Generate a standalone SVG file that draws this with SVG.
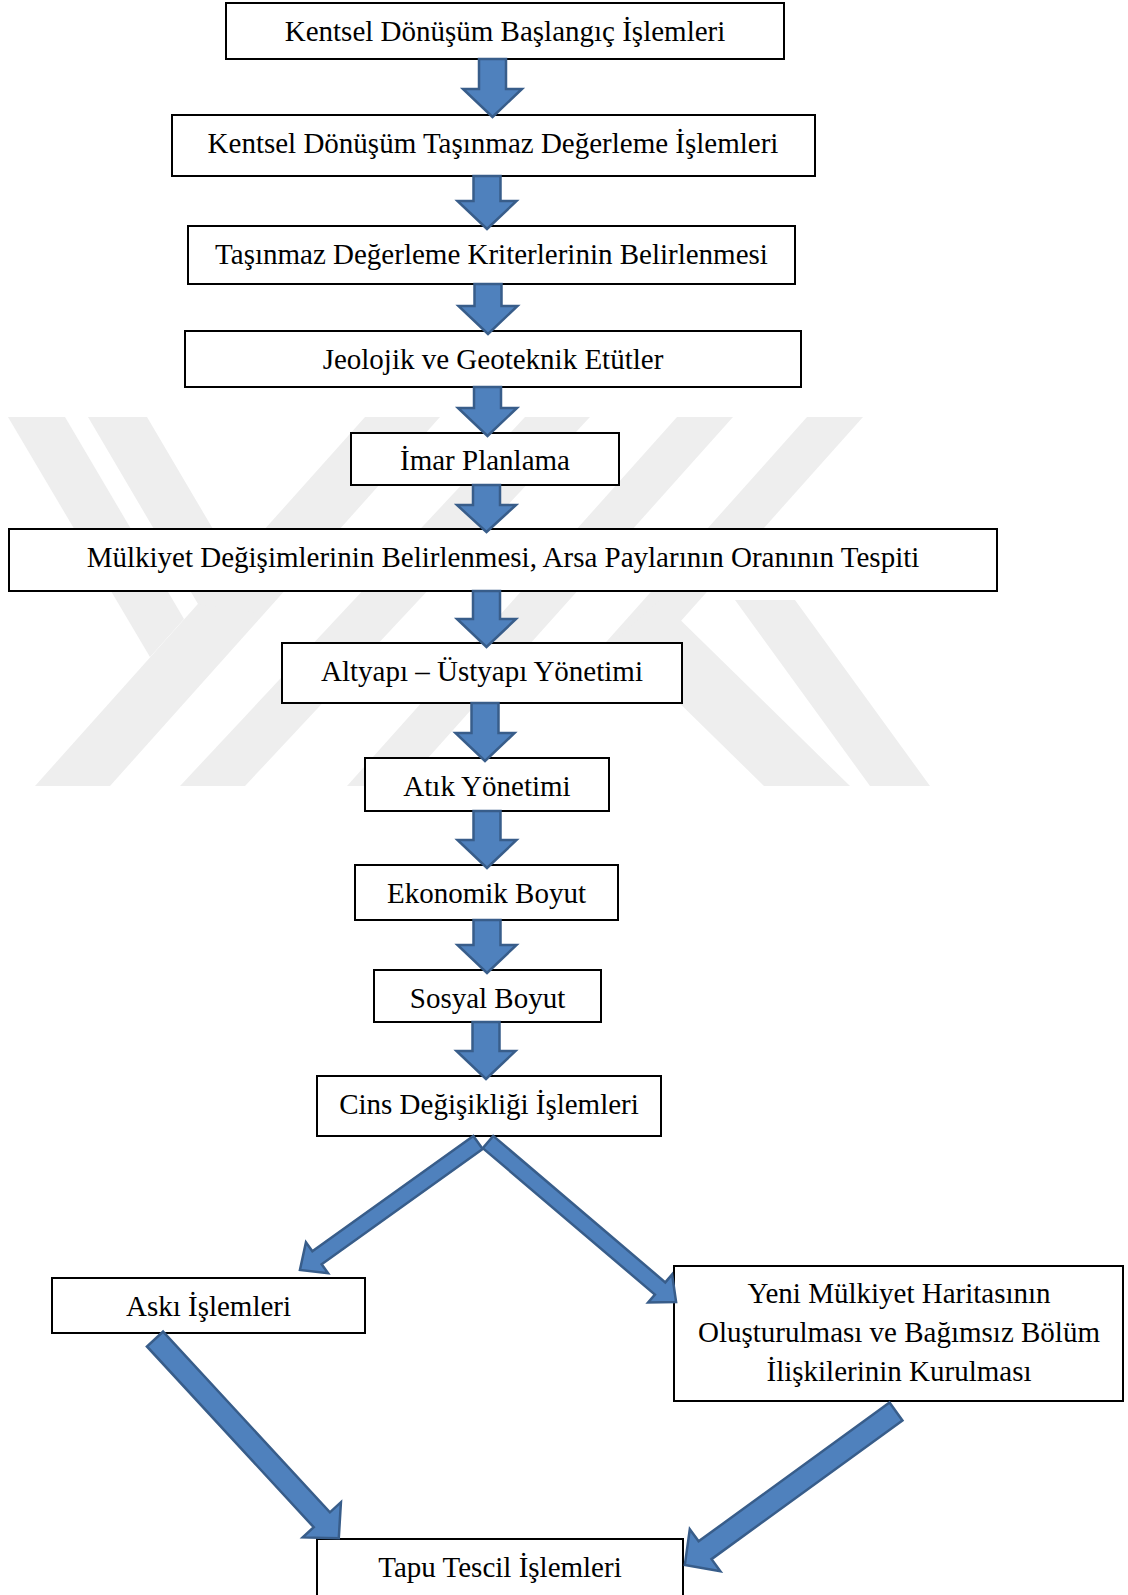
<svg xmlns="http://www.w3.org/2000/svg" width="1128" height="1595" viewBox="0 0 1128 1595">
  <defs>
    <style>
      .wm { fill: #eeeeee; stroke: none; }
      .box { fill: #ffffff; stroke: #000000; stroke-width: 2; }
      .lbl { font-family: "Liberation Serif", "Times New Roman", serif; font-size: 29px; fill: #000000; text-anchor: middle; }
      .arr { fill: #4f81bd; stroke: #385d8a; stroke-width: 2.5; stroke-linejoin: miter; }
    </style>
  </defs>
  <rect x="0" y="0" width="1128" height="1595" fill="#ffffff"/>

  <g id="watermark">
    <polygon class="wm" points="365,417 440,417 110,786 35,786"/>
    <polygon class="wm" points="525,417 590,417 245,786 180,786"/>
    <polygon class="wm" points="677,417 733,417 403,786 347,786"/>
    <polygon class="wm" points="807,417 863,417 655,650 599,650"/>
    <polygon class="wm" points="8,417 65,417 184,619 150,657"/>
    <polygon class="wm" points="88,417 147,417 263,614 198,604"/>
    <polygon class="wm" points="615,640 660,600 850,786 764,786"/>
    <polygon class="wm" points="735,600 795,600 930,786 870,786"/>
  </g>

  <g id="n1"><rect class="box" x="226" y="3" width="558" height="56"/><text class="lbl" x="505" y="40.5">Kentsel Dönüşüm Başlangıç İşlemleri</text></g>
  <g id="n2"><rect class="box" x="172" y="115" width="643" height="61"/><text class="lbl" x="493" y="152.5">Kentsel Dönüşüm Taşınmaz Değerleme İşlemleri</text></g>
  <g id="n3"><rect class="box" x="188" y="226" width="607" height="58"/><text class="lbl" x="491.5" y="263.5">Taşınmaz Değerleme Kriterlerinin Belirlenmesi</text></g>
  <g id="n4"><rect class="box" x="185" y="331" width="616" height="56"/><text class="lbl" x="493" y="368.5">Jeolojik ve Geoteknik Etütler</text></g>
  <g id="n5"><rect class="box" x="351" y="433" width="268" height="52"/><text class="lbl" x="485" y="470">İmar Planlama</text></g>
  <g id="n6"><rect class="box" x="9" y="529" width="988" height="62"/><text class="lbl" x="503" y="566.5">Mülkiyet Değişimlerinin Belirlenmesi, Arsa Paylarının Oranının Tespiti</text></g>
  <g id="n7"><rect class="box" x="282" y="643" width="400" height="60"/><text class="lbl" x="482" y="680.5">Altyapı – Üstyapı Yönetimi</text></g>
  <g id="n8"><rect class="box" x="365" y="758" width="244" height="53"/><text class="lbl" x="487" y="795.5">Atık Yönetimi</text></g>
  <g id="n9"><rect class="box" x="355" y="865" width="263" height="55"/><text class="lbl" x="486.5" y="902.5">Ekonomik Boyut</text></g>
  <g id="n10"><rect class="box" x="374" y="970" width="227" height="52"/><text class="lbl" x="487.5" y="1007.5">Sosyal Boyut</text></g>
  <g id="n11"><rect class="box" x="317" y="1076" width="344" height="60"/><text class="lbl" x="489" y="1113.5">Cins Değişikliği İşlemleri</text></g>
  <g id="n12"><rect class="box" x="52" y="1278" width="313" height="55"/><text class="lbl" x="208.5" y="1315.5">Askı İşlemleri</text></g>
  <g id="n13"><rect class="box" x="674" y="1266" width="449" height="135"/>
    <text class="lbl" x="899" y="1303">Yeni Mülkiyet Haritasının</text>
    <text class="lbl" x="899" y="1342">Oluşturulması ve Bağımsız Bölüm</text>
    <text class="lbl" x="899" y="1381">İlişkilerinin Kurulması</text>
  </g>
  <g id="n14"><rect class="box" x="317" y="1539" width="366" height="60"/><text class="lbl" x="500" y="1576.5">Tapu Tescil İşlemleri</text></g>

  <g id="connectors">
    <polygon class="arr" points="479,59 506,59 506,89 522,89 492.5,117 463,89 479,89"/>
    <polygon class="arr" points="473.5,176 500.5,176 500.5,201 516.5,201 487,229 457.5,201 473.5,201"/>
    <polygon class="arr" points="474.5,284 501.5,284 501.5,306 517.5,306 488,334 458.5,306 474.5,306"/>
    <polygon class="arr" points="474,387 501,387 501,408 517,408 487.5,436 458,408 474,408"/>
    <polygon class="arr" points="473,485 500,485 500,505 516,505 486.5,532 457,505 473,505"/>
    <polygon class="arr" points="473,591 500,591 500,619 516,619 486.5,647 457,619 473,619"/>
    <polygon class="arr" points="471.5,703 498.5,703 498.5,733 514.5,733 485,761 455.5,733 471.5,733"/>
    <polygon class="arr" points="473.5,811 500.5,811 500.5,840 516.5,840 487,868 457.5,840 473.5,840"/>
    <polygon class="arr" points="473.5,920 500.5,920 500.5,945 516.5,945 487,973 457.5,945 473.5,945"/>
    <polygon class="arr" points="472.5,1022 499.5,1022 499.5,1051 515.5,1051 486,1079 456.5,1051 472.5,1051"/>
    <polygon class="arr" transform="translate(478,1142.5) rotate(144.4)" points="0,-8 198,-8 198,-19 219,0 198,19 198,8 0,8"/>
    <polygon class="arr" transform="translate(488,1142) rotate(40.4)" points="0,-8 226,-8 226,-18.5 247,0 226,18.5 226,8 0,8"/>
    <polygon class="arr" transform="translate(155,1339) rotate(47.3)" points="0,-11 246,-11 246,-26 271,0 246,26 246,11 0,11"/>
    <polygon class="arr" transform="translate(896,1411.5) rotate(144)" points="0,-11 236,-11 236,-26 261,0 236,26 236,11 0,11"/>
  </g>
</svg>
